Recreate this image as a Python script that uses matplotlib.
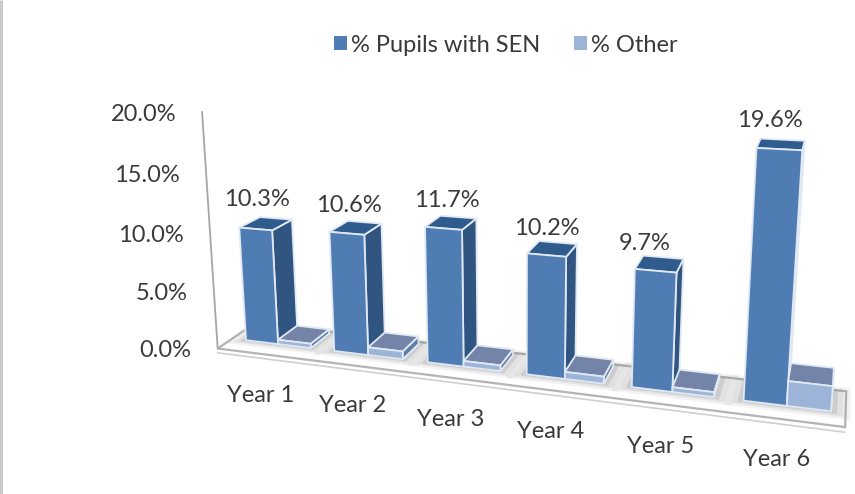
import numpy as np
import matplotlib
matplotlib.use('Agg')
import matplotlib.pyplot as plt
from matplotlib.patches import Patch, Polygon

categories = ['Year 1', 'Year 2', 'Year 3', 'Year 4', 'Year 5', 'Year 6']
sen_values = [10.3, 10.6, 11.7, 10.2, 9.7, 19.6]
other_values = [0.4, 0.7, 0.5, 0.6, 0.4, 2.0]
y_ticks = [0, 5, 10, 15, 20]
series_names = ['% Pupils with SEN', '% Other']

# pinhole camera: (category, value, depth) -> pixel
CAMERA = np.array([[79.087275, -1.214989, 28.993792, 246.012394],
                   [1.082418, -11.471013, -2.958644, 340.21152],
                   [-0.027468, -0.002356, 0.033675, 1.0]])
BAR_W = 0.37
FLOOR_X = (-0.16, 5.86)
FLOOR_Z = (-0.68, 1.13)
AXIS_STRETCH = 1.035
LABEL_OFF = [(1, -29), (2, -28), (3, -28), (0, -27), (-11, -27), (-9, -29)]
CAT_OFF = [(-1, 53), (1, 53), (5, 55), (5, 55), (9, 57), (12, 56)]

FONT = 'Lato'
FS = 17
TXT = '#3a3a3a'


def proj(x, y, z):
    q = CAMERA @ np.array([x, y, z, 1.0])
    return q[0] / q[2], q[1] / q[2]


def poly(ax, corners, **kw):
    ax.add_patch(Polygon([proj(*c) for c in corners], closed=True, **kw))


def box(ax, x0, x1, h, front, side, top):
    e = dict(edgecolor='#dfe8f3', linewidth=1.3, joinstyle='round', zorder=3)
    poly(ax, [(x1, 0, 0), (x1, 0, 1), (x1, h, 1), (x1, h, 0)], facecolor=side, **e)
    poly(ax, [(x0, h, 0), (x1, h, 0), (x1, h, 1), (x0, h, 1)], facecolor=top, **e)
    poly(ax, [(x0, 0, 0), (x1, 0, 0), (x1, h, 0), (x0, h, 0)], facecolor=front, **e)


fig = plt.figure(figsize=(8.55, 4.94), dpi=100)
ax = fig.add_axes([0, 0, 1, 1])
ax.set_xlim(0, 855)
ax.set_ylim(494, 0)
ax.axis('off')

# left page rule
ax.plot([1, 1], [0, 494], color='#c9c9c9', lw=2.2, solid_capstyle='butt')

# floor with its lower edge and the value axis line
fc = [(FLOOR_X[0], 0, FLOOR_Z[0]), (FLOOR_X[1], 0, FLOOR_Z[0]),
      (FLOOR_X[1], 0, FLOOR_Z[1]), (FLOOR_X[0], 0, FLOOR_Z[1])]
poly(ax, fc, facecolor='white', edgecolor='#b4b4b4', linewidth=1.6, zorder=1)
fi = [(FLOOR_X[0], -0.4, FLOOR_Z[0]), (FLOOR_X[1], -0.4, FLOOR_Z[0])]
ax.plot(*zip(*[proj(*c) for c in fi]), color='#cfcfcf', lw=1.2, zorder=1)
axis_pts = [proj(FLOOR_X[0], 20 * AXIS_STRETCH, FLOOR_Z[0]), proj(FLOOR_X[0], 0, FLOOR_Z[0])]
ax.plot(*zip(*axis_pts), color='#a6a6a6', lw=1.3, zorder=2)

# bars
for i, (s, o) in enumerate(zip(sen_values, other_values)):
    for grow, alpha in [(0.16, 0.10), (0.10, 0.14), (0.05, 0.2)]:
        poly(ax, [(i - grow, 0, -grow * 2), (i + 2 * BAR_W + grow, 0, -grow * 2),
                  (i + 2 * BAR_W + grow, 0, 1 + grow * 2), (i - grow, 0, 1 + grow * 2)],
             facecolor='#808080', alpha=alpha, edgecolor='none', zorder=2)
    box(ax, i, i + BAR_W, s, '#4f7db3', '#2f5580', '#2f5c8c')
    box(ax, i + BAR_W, i + 2 * BAR_W, o, '#9db4d9', '#5f7ca8', '#7384a8')

# value labels
for i, s in enumerate(sen_values):
    x, y = proj(i + BAR_W / 2, s, 0)
    dx, dy = LABEL_OFF[i]
    ax.text(x + dx, y + dy, f'{s:.1f}%', ha='center', va='center', family=FONT, fontsize=FS, color=TXT, zorder=6)

# category labels
for i, c in enumerate(categories):
    x, y = proj(i + BAR_W / 2, 0, 0)
    dx, dy = CAT_OFF[i]
    ax.text(x + dx, y + dy, c, ha='center', va='center', family=FONT, fontsize=FS, color=TXT, zorder=6)

# value axis labels
for v in y_ticks:
    x, y = proj(FLOOR_X[0], v * AXIS_STRETCH, FLOOR_Z[0])
    ax.text(x - 26, y + 2, f'{v:.1f}%', ha='right', va='center', family=FONT, fontsize=FS, color=TXT, zorder=6)

handles = [Patch(facecolor='#4f7db3', label=series_names[0]), Patch(facecolor='#9db4d9', label=series_names[1])]
ax.legend(handles=handles, ncol=2, loc='center', bbox_to_anchor=(506 / 855, 1 - 45 / 494), frameon=False,
          prop={'family': FONT, 'size': FS}, labelcolor=TXT, handlelength=0.55, handleheight=0.55,
          handletextpad=0.15, columnspacing=1.45)

fig.savefig('out.png', dpi=100)
